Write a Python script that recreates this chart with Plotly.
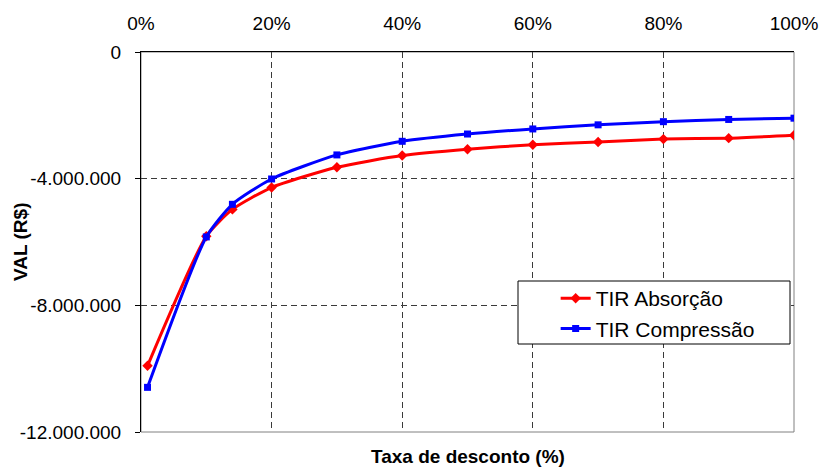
import plotly.graph_objects as go

# Discount rates (%) and NPV (R$) for the two IRR scenarios
taxa = [1, 10, 14, 20, 30, 40, 50, 60, 70, 80, 90, 100]
val_absorcao = [-9910000, -5820000, -4970000, -4280000, -3640000, -3270000,
                -3070000, -2930000, -2840000, -2750000, -2720000, -2630000]
val_compressao = [-10590000, -5840000, -4810000, -4010000, -3250000, -2820000,
                  -2590000, -2430000, -2300000, -2200000, -2130000, -2090000]

x_ticks = [0, 20, 40, 60, 80, 100]
x_labels = ["0%", "20%", "40%", "60%", "80%", "100%"]
y_ticks = [0, -4000000, -8000000, -12000000]
y_labels = ["0", "-4.000.000", "-8.000.000", "-12.000.000"]

FONT = "Liberation Sans, Arial, sans-serif"
GRID = "#3a3a3a"

fig = go.Figure()
fig.add_trace(go.Scatter(
    x=taxa, y=val_absorcao, name="TIR Absorção", mode="lines+markers",
    line=dict(color="#FF0000", width=3, shape="spline", smoothing=0.6),
    marker=dict(symbol="diamond", size=8, color="#FF0000"),
))
fig.add_trace(go.Scatter(
    x=taxa, y=val_compressao, name="TIR Compressão", mode="lines+markers",
    line=dict(color="#0000FF", width=3, shape="spline", smoothing=0.6),
    marker=dict(symbol="square", size=7, color="#0000FF"),
))

fig.update_layout(
    width=822, height=470,
    margin=dict(l=141, r=28, t=52, b=38),
    paper_bgcolor="white", plot_bgcolor="white",
    font=dict(family=FONT, size=19, color="black"),
    showlegend=True,
    legend=dict(
        x=0.635, y=0.405, xanchor="left", yanchor="top",
        bgcolor="rgba(0,0,0,0)", borderwidth=0,
        font=dict(family=FONT, size=21, color="black"),
        itemwidth=30, tracegroupgap=0,
    ),
    xaxis=dict(
        side="top", range=[0, 100], tickvals=x_ticks, ticktext=x_labels,
        showline=True, linecolor="black", linewidth=1, ticks="",
        showgrid=True, gridcolor=GRID, gridwidth=1, griddash="6px,4px",
        zeroline=False, ticklabelstandoff=13, automargin=False,
    ),
    yaxis=dict(
        range=[-12000000, 0], tickvals=y_ticks, ticktext=y_labels,
        showline=True, linecolor="black", linewidth=1,
        ticks="outside", ticklen=5, tickcolor="black",
        showgrid=True, gridcolor=GRID, gridwidth=1, griddash="6px,4px",
        zeroline=False, ticklabelstandoff=10, automargin=False,
    ),
    shapes=[
        # plot-area frame (right and bottom edges show in gray)
        dict(type="rect", xref="paper", yref="paper", x0=0, x1=1, y0=0, y1=1,
             line=dict(color="#808080", width=1), layer="below"),
        # legend box
        dict(type="rect", xref="paper", yref="paper",
             x0=(518 - 141) / 653, x1=(790 - 141) / 653,
             y0=(432 - 344) / 380, y1=(432 - 281) / 380,
             line=dict(color="black", width=1), fillcolor="white", layer="above"),
    ],
    annotations=[
        dict(text="<b>Taxa de desconto (%)</b>", xref="paper", yref="paper",
             x=0.5, y=-(469 - 432) / 380, xanchor="center", yanchor="bottom",
             showarrow=False, font=dict(family=FONT, size=19, color="black")),
        dict(text="<b>VAL (R$)</b>", xref="paper", yref="paper",
             x=-(141 - 20) / 653, y=0.5, xanchor="center", yanchor="middle",
             textangle=-90, showarrow=False,
             font=dict(family=FONT, size=19, color="black")),
    ],
)

fig.write_html("out.html")
